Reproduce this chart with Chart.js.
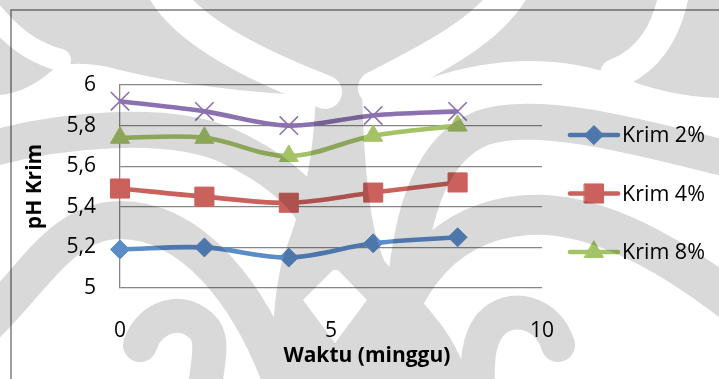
<!DOCTYPE html>
<html>
<head>
<meta charset="utf-8">
<script src="https://cdn.jsdelivr.net/npm/chart.js@4/dist/chart.umd.min.js"></script>
<style>
  html, body { margin: 0; padding: 0; background: #ffffff; }
  #wrap { width: 719px; height: 379px; }
</style>
</head>
<body>
<div id="wrap"><canvas id="c" width="719" height="379"></canvas></div>
<script>
// pH of the cream over storage time
const weeks = [0, 2, 4, 6, 8];
const krim2 = [5.19, 5.20, 5.15, 5.22, 5.25];
const krim4 = [5.49, 5.45, 5.42, 5.47, 5.52];
const krim8 = [5.74, 5.74, 5.65, 5.75, 5.80];
const basis = [5.92, 5.87, 5.80, 5.85, 5.87];
const seriesNames = ['Krim 2%', 'Krim 4%', 'Krim 8%', 'Basis krim'];
const legendSeries = [0, 1, 2];
const yTicks = [5, 5.2, 5.4, 5.6, 5.8, 6];
const xTicks = [0, 5, 10];
const xTitle = 'Waktu (minggu)';
const yTitle = 'pH Krim';

const FONT = "'Open Sans', 'Noto Sans', sans-serif";
const W = 719, H = 379;

// Grey emblem printed behind the sheet; blended with multiply so it tints everything.
function buildEmblem(w, h) {
  const c = document.createElement('canvas');
  c.width = w; c.height = h;
  const g = c.getContext('2d');
  const GREY = '#d9d9d9', WHITE = '#ffffff';
  g.fillStyle = WHITE; g.fillRect(0, 0, w, h);
  g.fillStyle = GREY; g.strokeStyle = GREY;
  g.lineCap = 'round'; g.lineJoin = 'round';

  // crown along the top
  g.beginPath();
  g.moveTo(0, 0); g.lineTo(w, 0); g.lineTo(w, 98);
  g.quadraticCurveTo(665, 96, 618, 76);
  g.quadraticCurveTo(530, 45, 430, 78);
  g.quadraticCurveTo(395, 90, 362, 96);
  g.lineTo(318, 96);
  g.quadraticCurveTo(200, 90, 120, 70);
  g.quadraticCurveTo(85, 60, 57, 66);
  g.quadraticCurveTo(30, 92, 0, 95);
  g.closePath(); g.fill();

  // trunk widening towards the bottom
  g.beginPath();
  g.moveTo(316, 88); g.lineTo(362, 88);
  g.bezierCurveTo(364, 170, 370, 230, 385, 262);
  g.bezierCurveTo(420, 300, 455, 330, 468, 379);
  g.lineTo(272, 379);
  g.bezierCurveTo(272, 320, 276, 280, 284, 255);
  g.bezierCurveTo(300, 210, 314, 170, 316, 88);
  g.closePath(); g.fill();

  // curved branches
  const stroke = (wid, pts) => {
    g.lineWidth = wid; g.beginPath(); g.moveTo(pts[0], pts[1]);
    for (let i = 2; i < pts.length; i += 6) g.bezierCurveTo(pts[i], pts[i+1], pts[i+2], pts[i+3], pts[i+4], pts[i+5]);
    g.stroke();
  };
  g.strokeStyle = GREY;
  stroke(36, [-20, 152, 60, 128, 170, 120, 228, 146, 270, 165, 300, 190, 315, 215]);
  stroke(36, [740, 162, 650, 140, 540, 108, 482, 128, 432, 148, 412, 210, 405, 290]);
  stroke(38, [-20, 330, 30, 285, 60, 220, 120, 220, 190, 220, 250, 290, 285, 390]);
  stroke(40, [375, 395, 390, 300, 430, 222, 527, 215, 600, 210, 680, 260, 745, 312]);
  // hooks at the foot
  stroke(34, [140, 345, 150, 315, 185, 305, 205, 330, 215, 345, 205, 370, 205, 395]);
  stroke(34, [558, 345, 548, 312, 510, 302, 490, 325, 475, 345, 478, 370, 478, 395]);

  // white bands cutting the crown
  g.strokeStyle = WHITE;
  stroke(34, [163, -12, 185, 30, 255, 65, 325, 92]);
  stroke(34, [513, -12, 490, 30, 430, 60, 375, 88]);
  stroke(30, [675, -12, 668, 30, 650, 60, 615, 74]);
  stroke(22, [-12, 8, 10, 35, 30, 52, 60, 60]);
  // notch between the two legs of the trunk
  g.fillStyle = WHITE;
  g.beginPath();
  g.moveTo(333, 270); g.lineTo(338, 270); g.lineTo(367, 300); g.lineTo(335, 343); g.lineTo(303, 300);
  g.closePath(); g.fill();
  return c;
}
const emblem = buildEmblem(W, H);

function toPoints(vals) { return weeks.map((x, i) => ({ x: x, y: vals[i] })); }

const styles = [
  { color: '#5a8cc8', pointStyle: 'rectRot', radius: 9.5, pbw: 1 },
  { color: '#ca615d', pointStyle: 'rect', radius: 13.5, pbw: 1 },
  { color: '#a4c266', pointStyle: 'triangle', radius: 11, pbw: 1 },
  { color: '#8c71b0', pointStyle: 'crossRot', radius: 13, pbw: 1.6 }
];
const seriesValues = [krim2, krim4, krim8, basis];

const datasets = seriesValues.map((vals, i) => ({
  label: seriesNames[i],
  data: toPoints(vals),
  borderColor: styles[i].color,
  backgroundColor: styles[i].color,
  pointBackgroundColor: styles[i].color,
  pointBorderColor: styles[i].color,
  pointStyle: styles[i].pointStyle,
  pointRadius: styles[i].radius,
  pointHoverRadius: styles[i].radius,
  pointBorderWidth: styles[i].pbw,
  borderWidth: 4.6,
  tension: 0.35,
  clip: false,
  order: 3 - i
}));

const sheetPlugin = {
  id: 'sheet',
  beforeDraw(chart) {
    const ctx = chart.ctx;
    ctx.save();
    ctx.fillStyle = '#ffffff';
    ctx.fillRect(0, 0, chart.width, chart.height);
    ctx.strokeStyle = '#7d7d7d';
    ctx.lineWidth = 1.5;
    ctx.beginPath();
    ctx.moveTo(11, chart.height + 2);
    ctx.lineTo(11, 10);
    ctx.lineTo(chart.width + 2, 10);
    ctx.stroke();
    ctx.restore();
  },
  afterDraw(chart) {
    const ctx = chart.ctx;
    const area = chart.chartArea;
    ctx.save();
    // legend: line sample with marker, then label
    legendSeries.forEach((idx, k) => {
      const ds = chart.data.datasets[idx];
      const y = 135 + k * 58.5;
      ctx.strokeStyle = ds.borderColor;
      ctx.lineWidth = 4.6;
      ctx.lineCap = 'round';
      ctx.beginPath();
      ctx.moveTo(570, y); ctx.lineTo(618, y);
      ctx.stroke();
      ctx.fillStyle = ds.backgroundColor;
      ctx.strokeStyle = ds.borderColor;
      ctx.lineWidth = ds.pointBorderWidth;
      Chart.helpers.drawPoint(ctx, {
        pointStyle: ds.pointStyle, rotation: 0,
        radius: ds.pointRadius, borderWidth: ds.pointBorderWidth
      }, 594, y);
      ctx.fillStyle = '#000000';
      ctx.font = '21.5px ' + FONT;
      ctx.textAlign = 'left';
      ctx.textBaseline = 'middle';
      ctx.fillText(ds.label, 622, y + 1);
    });
    // x-axis title
    ctx.fillStyle = '#000000';
    ctx.font = 'bold 21px ' + FONT;
    ctx.textAlign = 'center';
    ctx.textBaseline = 'alphabetic';
    ctx.fillText(xTitle, area.left + (area.right - area.left) * 0.585, 362);
    // emblem tint
    ctx.globalCompositeOperation = 'multiply';
    ctx.drawImage(emblem, 0, 0);
    ctx.restore();
  }
};

new Chart(document.getElementById('c'), {
  type: 'line',
  data: { datasets: datasets },
  plugins: [sheetPlugin],
  options: {
    responsive: false,
    devicePixelRatio: 1,
    animation: false,
    events: [],
    layout: { padding: { left: 0, right: 177, top: 85, bottom: 0 } },
    plugins: { legend: { display: false }, tooltip: { enabled: false } },
    scales: {
      x: {
        type: 'linear',
        min: xTicks[0],
        max: xTicks[xTicks.length - 1],
        afterBuildTicks(scale) { scale.ticks = xTicks.map(v => ({ value: v })); },
        afterFit(scale) { scale.height = H - 288; },
        grid: { display: false, drawTicks: false },
        border: { display: false },
        ticks: {
          padding: 30,
          color: '#000000',
          font: { family: FONT, size: 21 },
          callback: v => String(v)
        }
      },
      y: {
        type: 'linear',
        min: yTicks[0],
        max: yTicks[yTicks.length - 1],
        afterBuildTicks(scale) { scale.ticks = yTicks.map(v => ({ value: v })); },
        afterFit(scale) { scale.width = 120; },
        grid: { color: '#878787', lineWidth: 1.3, drawTicks: false },
        border: { display: true, color: '#878787', width: 1.3 },
        title: {
          display: true,
          text: yTitle,
          color: '#000000',
          font: { family: FONT, size: 21, weight: 'bold' },
          padding: { top: 22, bottom: 0 }
        },
        ticks: {
          padding: 24,
          color: '#000000',
          font: { family: FONT, size: 21 },
          callback: v => String(Math.round(v * 10) / 10).replace('.', ',')
        }
      }
    }
  }
});
</script>
</body>
</html>
